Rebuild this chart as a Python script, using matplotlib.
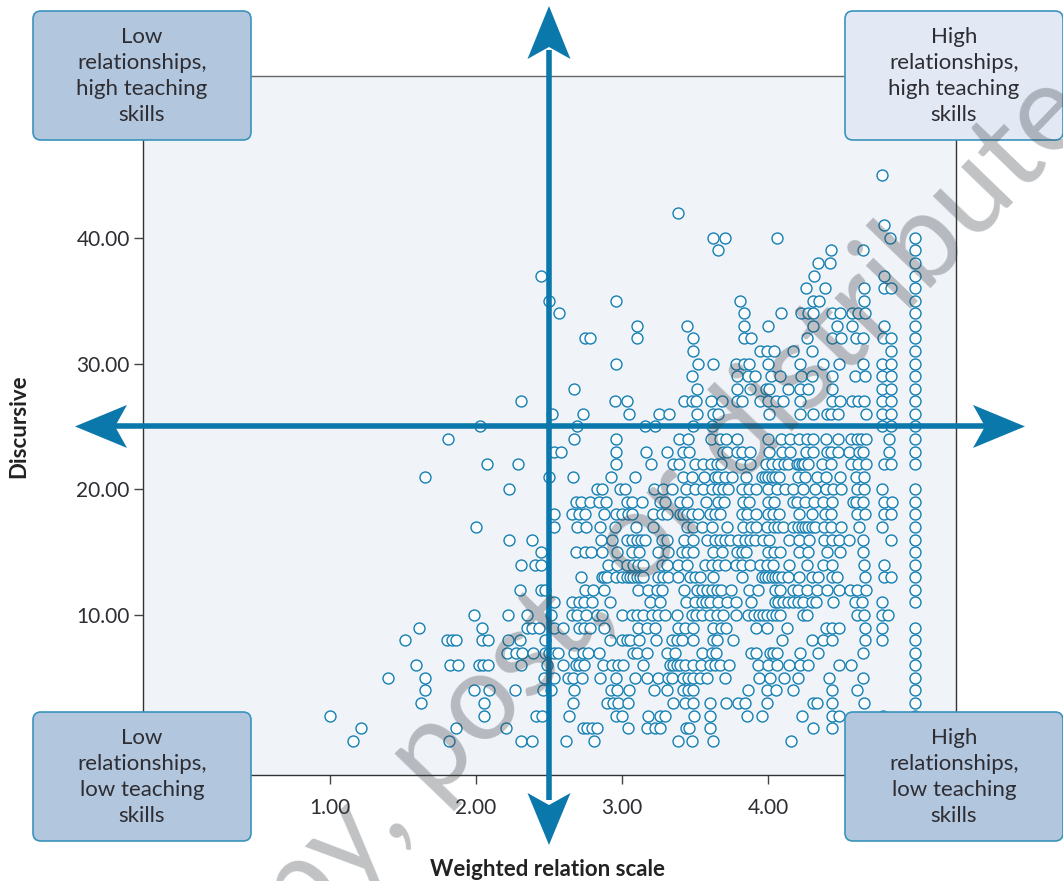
import matplotlib
matplotlib.use("Agg")
import matplotlib.pyplot as plt
from matplotlib.patches import FancyBboxPatch, Polygon

plt.rcParams['font.family'] = ['Lato', 'DejaVu Sans']

# x values (weighted relation scale) for each integer y (discursive)
c = 5.007  # the long column on the right
d45 = [4.783]
d42 = [3.386]
d41 = [4.794]
d40 = [3.623, 3.707, 4.059, 4.838, c]
d39 = [3.660, 4.434, 4.653, c]
d38 = [4.340, 4.422, c]
d37 = [2.446, 4.315, 4.797, c]
d36 = [4.260, 4.392, 4.660, 4.797, 4.842, c]
d35 = [2.498, 2.962, 3.806, 4.310, 4.347, 4.660, c]
d34 = [2.569, 3.833, 4.091, 4.223, 4.276, 4.310, 4.440, 4.493, 4.573, 4.618, 4.664, c]
d33 = [3.106, 3.443, 3.833, 4.000, 4.310, 4.470, 4.573, 4.797, c]
d32 = [2.747, 2.784, 3.106, 3.484, 3.833, 3.881, 4.269, 4.436, 4.500, 4.602, 4.653, 4.785, 4.842, c]
d31 = [3.484, 3.945, 3.995, 4.043, 4.173, 4.303, 4.842, c]
d30 = [2.962, 3.518, 3.621, 3.778, 3.838, 3.870, 4.000, 4.219, 4.374, 4.486, 4.653, 4.783, 4.842, c]
d29 = [3.477, 3.785, 3.865, 3.913, 4.020, 4.080, 4.226, 4.303, 4.436, 4.596, 4.666, 4.783, 4.842, c]
d28 = [2.674, 3.513, 3.785, 3.879, 3.986, 4.009, 4.139, 4.219, 4.276, 4.436, 4.783, 4.842, c]
d27 = [2.306, 2.953, 3.035, 3.424, 3.477, 3.504, 3.612, 3.682, 3.785, 3.824, 3.945, 4.000, 4.052, 4.100,
       4.219, 4.436, 4.493, 4.573, 4.618, 4.657, 4.783, 4.842, c]
d26 = [2.519, 2.733, 3.051, 3.253, 3.324, 3.513, 3.621, 3.660, 4.009, 4.219, 4.306, 4.402, 4.429, 4.477,
       4.671, 4.783, 4.842, c]
d25 = [2.026, 2.692, 3.157, 3.226, 3.484, 3.614, 4.783, 4.842, c]
d24 = [1.806, 2.674, 2.962, 3.390, 3.449, 3.612, 3.671, 3.710, 3.785, 4.000, 4.091, 4.150, 4.212, 4.265,
       4.310, 4.397, 4.477, 4.566, 4.607, 4.634, 4.669, 4.831, c]
d23 = [2.537, 2.580, 2.962, 3.164, 3.306, 3.420, 3.461, 3.694, 3.721, 3.785, 3.819, 3.876, 4.009, 4.093,
       4.150, 4.258, 4.306, 4.402, 4.429, 4.477, 4.555, 4.625, 4.653, 4.831, c]
d22 = [2.076, 2.290, 2.962, 3.198, 3.351, 3.392, 3.500, 3.557, 3.609, 3.648, 3.680, 3.815, 3.879, 3.984,
       4.029, 4.070, 4.109, 4.139, 4.196, 4.212, 4.230, 4.249, 4.276, 4.372, 4.431, 4.568, 4.618, 4.669,
       4.797, 4.842, c]
d21 = [1.649, 2.498, 2.663, 2.925, 3.089, 3.420, 3.477, 3.564, 3.637, 3.660, 3.706, 3.751, 3.847, 3.957,
       3.980, 4.003, 4.025, 4.048, 4.078, 4.203, 4.254, 4.338, 4.397, 4.493, 4.601, 4.660]
d20 = [2.227, 2.827, 2.866, 2.987, 3.021, 3.219, 3.283, 3.345, 3.439, 3.500, 3.553, 3.614, 3.660, 3.694,
       3.724, 3.820, 3.870, 3.918, 3.998, 4.064, 4.117, 4.174, 4.238, 4.322, 4.395, 4.448, 4.498, 4.608,
       4.660, 4.783, c]
d19 = [2.683, 2.722, 2.781, 2.843, 2.889, 3.032, 3.066, 3.135, 3.260, 3.295, 3.397, 3.448, 3.573, 3.655,
       3.701, 3.827, 3.870, 4.003, 4.041, 4.174, 4.197, 4.254, 4.315, 4.375, 4.436, 4.580, 4.603, 4.653,
       4.797, 4.847, c]
d18 = [2.537, 2.656, 2.708, 2.747, 2.879, 2.959, 2.998, 3.044, 3.066, 3.215, 3.272, 3.306, 3.397, 3.420,
       3.448, 3.477, 3.523, 3.603, 3.637, 3.671, 3.820, 3.854, 3.916, 4.003, 4.037, 4.078, 4.215, 4.299,
       4.391, 4.432, 4.608, 4.665, 4.797, 4.843, c]
d17 = [1.998, 2.537, 2.695, 2.754, 2.850, 2.953, 3.094, 3.210, 3.443, 3.489, 3.546, 3.614, 3.722, 3.827,
       3.881, 3.918, 3.996, 4.041, 4.071, 4.105, 4.174, 4.208, 4.231, 4.254, 4.276, 4.299, 4.322, 4.384,
       4.432, 4.498, 4.624, 4.783, c]
d16 = [2.227, 2.384, 2.854, 2.932, 3.037, 3.066, 3.101, 3.128, 3.158, 3.272, 3.306, 3.425, 3.484, 3.580,
       3.637, 3.671, 3.706, 3.740, 3.797, 3.843, 3.877, 3.911, 3.968, 4.009, 4.146, 4.213, 4.281, 4.384,
       4.441, 4.489, 4.555, 4.653, 4.840, c]
d15 = [2.443, 2.683, 2.747, 2.788, 2.861, 2.966, 3.066, 3.119, 3.249, 3.318, 3.409, 3.448, 3.489, 3.626,
       3.687, 3.790, 3.820, 3.847, 3.998, 4.041, 4.082, 4.213, 4.272, 4.407, 4.493, 4.653, c]
d14 = [2.309, 2.405, 2.443, 2.907, 2.964, 3.032, 3.078, 3.112, 3.146, 3.272, 3.306, 3.386, 3.443, 3.569,
       3.614, 3.660, 3.706, 3.781, 3.820, 3.877, 3.945, 3.991, 4.037, 4.146, 4.265, 4.375, 4.436, 4.660,
       4.797, c]
d13 = [2.722, 2.861, 2.877, 2.895, 2.959, 2.998, 3.032, 3.055, 3.078, 3.101, 3.123, 3.146, 3.249, 3.283,
       3.318, 3.386, 3.466, 3.500, 3.534, 3.621, 3.820, 3.957, 3.980, 4.003, 4.025, 4.048, 4.071, 4.094,
       4.139, 4.213, 4.299, 4.345, 4.436, 4.471, 4.665, 4.797, 4.843, c]
d12 = [2.304, 2.443, 2.473, 2.747, 2.804, 2.877, 3.112, 3.181, 3.238, 3.272, 3.425, 3.512, 3.546, 3.580,
       3.614, 3.649, 3.676, 3.747, 3.872, 3.929, 4.048, 4.082, 4.174, 4.208, 4.265, 4.338, 4.402, 4.489,
       4.562, 4.608, 4.669, c]
d11 = [2.537, 2.656, 2.708, 2.742, 2.793, 2.918, 3.192, 3.260, 3.436, 3.500, 3.546, 3.576, 3.603, 3.660,
       3.717, 3.781, 3.881, 4.048, 4.071, 4.105, 4.139, 4.174, 4.208, 4.238, 4.299, 4.329, 4.443, 4.596,
       4.646, 4.783, c]
d10 = [1.987, 2.220, 2.348, 2.512, 2.656, 2.690, 2.754, 2.827, 2.866, 2.998, 3.066, 3.101, 3.146, 3.203,
       3.249, 3.295, 3.379, 3.477, 3.507, 3.546, 3.603, 3.653, 3.694, 3.781, 3.861, 3.904, 3.939, 3.968,
       3.996, 4.025, 4.053, 4.082, 4.242, 4.265, 4.608, 4.660, 4.783, 4.824]
d9 = [1.608, 2.039, 2.348, 2.386, 2.434, 2.535, 2.599, 2.708, 2.740, 2.781, 2.877, 3.112, 3.169, 3.226,
      3.386, 3.432, 3.489, 3.621, 3.676, 3.712, 3.918, 3.996, 4.133, 4.395, 4.436, 4.489, 4.665, 4.783, c]
d8 = [1.512, 1.802, 1.838, 1.864, 2.039, 2.083, 2.220, 2.304, 2.473, 2.918, 2.998, 3.032, 3.055, 3.119,
      3.231, 3.340, 3.375, 3.413, 3.489, 3.626, 3.653, 3.758, 4.094, 4.304, 4.375, 4.436, 4.665, 4.783, c]
d7 = [2.211, 2.274, 2.313, 2.393, 2.473, 2.498, 2.535, 2.564, 2.672, 2.736, 2.765, 2.843, 3.078, 3.105,
      3.169, 3.306, 3.363, 3.546, 3.614, 3.644, 3.881, 3.918, 4.014, 4.037, 4.059, 4.219, 4.345, 4.653, c]
d6 = [1.590, 1.825, 1.879, 2.023, 2.051, 2.085, 2.309, 2.489, 2.599, 2.683, 2.708, 2.740, 2.873, 2.930,
      2.975, 3.010, 3.146, 3.329, 3.352, 3.375, 3.397, 3.432, 3.489, 3.539, 3.603, 3.637, 3.671, 3.735,
      3.934, 4.003, 4.059, 4.146, 4.219, 4.272, 4.489, 4.569, c]
d5 = [1.395, 1.649, 2.469, 2.535, 2.633, 2.667, 2.724, 2.848, 2.962, 3.089, 3.174, 3.249, 3.318, 3.345,
      3.420, 3.455, 3.489, 3.534, 3.580, 3.706, 3.941, 4.014, 4.112, 4.203, 4.420, 4.653, c]
d4 = [1.649, 1.987, 2.092, 2.265, 2.462, 2.512, 2.672, 2.925, 2.964, 3.051, 3.219, 3.306, 3.420, 3.455,
      3.489, 3.866, 3.991, 4.053, 4.169, 4.436, 4.608, c]
d3 = [1.626, 2.058, 2.663, 2.900, 2.937, 2.971, 3.044, 3.352, 3.432, 3.489, 3.603, 3.712, 3.797, 3.843,
      3.996, 4.311, 4.338, 4.436, 4.660, c]
d2 = [1.000, 2.053, 2.409, 2.450, 2.637, 2.957, 2.998, 3.176, 3.260, 3.295, 3.496, 3.605, 3.854, 3.961,
      4.235, 4.436, 4.489, 4.788, c]
d1 = [1.215, 1.861, 2.208, 2.736, 2.763, 2.793, 2.827, 3.039, 3.174, 3.226, 3.260, 3.439, 3.461, 3.605,
      4.311, 4.436]
d0 = [1.160, 1.818, 2.309, 2.382, 2.619, 2.811, 3.382, 3.477, 3.626, 4.158]

rows = {45: d45, 42: d42, 41: d41, 40: d40, 39: d39, 38: d38, 37: d37, 36: d36, 35: d35, 34: d34, 33: d33,
        32: d32, 31: d31, 30: d30, 29: d29, 28: d28, 27: d27, 26: d26, 25: d25, 24: d24, 23: d23, 22: d22,
        21: d21, 20: d20, 19: d19, 18: d18, 17: d17, 16: d16, 15: d15, 14: d14, 13: d13, 12: d12, 11: d11,
        10: d10, 9: d9, 8: d8, 7: d7, 6: d6, 5: d5, 4: d4, 3: d3, 2: d2, 1: d1, 0: d0}

x_ticks = [1, 2, 3, 4]  # 5.00 sits under the bottom right box
y_ticks = [10, 20, 30, 40]
mid_x = 2.5
mid_y = 25

boxes = [
    ("Low\nrelationships,\nhigh teaching\nskills", 33, 11, '#b2c6de'),
    ("High\nrelationships,\nhigh teaching\nskills", 845, 11, '#e2e9f4'),
    ("Low\nrelationships,\nlow teaching\nskills", 33, 712, '#b2c6de'),
    ("High\nrelationships,\nlow teaching\nskills", 845, 712, '#b2c6de'),
]

W, H = 1063, 881
blue = '#0a78ab'
ink = '#2d2d33'

fig = plt.figure(figsize=(W / 100, H / 100), dpi=100)
ax = fig.add_axes([143 / W, 1 - 775 / H, (956 - 143) / W, (775 - 76) / H])
ax.set_facecolor('#f0f3f8')

for y, xs in rows.items():
    for x in sorted(xs):
        ax.plot(x, y, 'o', ms=7.9, mfc='#fbfcfd', mec='#1580b3', mew=1.0, zorder=3)

ax.set_xlim(-0.281, 5.288)
ax.set_ylim(-2.73, 52.88)
ax.set_xticks(x_ticks)
ax.set_xticklabels(['%.2f' % v for v in x_ticks])
ax.set_yticks(y_ticks)
ax.set_yticklabels(['%.2f' % v for v in y_ticks])
ax.tick_params(length=6.5, width=1, color='#444444', labelcolor=ink, labelsize=15, pad=3)
ax.tick_params(axis='x', pad=10)
for side in ax.spines:
    ax.spines[side].set_color('#333333')
    ax.spines[side].set_linewidth(1)
ax.spines['top'].set_color('#666666')

# overlay in pixel coordinates for the arrows, boxes and labels
top = fig.add_axes([0, 0, 1, 1])
top.set_xlim(0, W)
top.set_ylim(H, 0)
top.axis('off')
top.patch.set_alpha(0)

cx, cy = ax.transData.transform((mid_x, mid_y))
cy = H - cy
top.plot([cx, cx], [50, 800], color=blue, lw=4, solid_capstyle='butt', zorder=4)
top.plot([85, 1015], [cy, cy], color=blue, lw=4, solid_capstyle='butt', zorder=4)
heads = [
    [(cx, 6), (cx - 21.5, 59), (cx, 47), (cx + 21.5, 59)],
    [(cx, 845), (cx - 21.5, 793), (cx, 805), (cx + 21.5, 793)],
    [(75, cy), (127, cy - 21.5), (115, cy), (127, cy + 21.5)],
    [(1025, cy), (973, cy - 21.5), (985, cy), (973, cy + 21.5)],
]
for head in heads:
    top.add_patch(Polygon(head, closed=True, fc=blue, ec='none', zorder=4))

for label, bx, by, fill in boxes:
    top.add_patch(FancyBboxPatch((bx, by), 218, 129, boxstyle='round,pad=0,rounding_size=8',
                                 fc=fill, ec='#3a93bd', lw=1.2, zorder=5))
    top.text(bx + 109, by + 65, label, ha='center', va='center', fontsize=16, color=ink,
             linespacing=1.38, zorder=6)

top.text(547, 869, "Weighted relation scale", ha='center', va='center', fontsize=16, weight='bold', color='#222222')
top.text(19, 426, "Discursive", ha='center', va='center', rotation=90, fontsize=16, weight='bold', color='#222222')

# watermark runs across the whole figure
top.text(1095, 118, "Do not copy, post, or distribute", ha='right', va='baseline', rotation=46,
         rotation_mode='anchor', fontsize=88, color='#3c4148', alpha=0.32, zorder=7, clip_on=True)

fig.savefig('out.png', dpi=100)
